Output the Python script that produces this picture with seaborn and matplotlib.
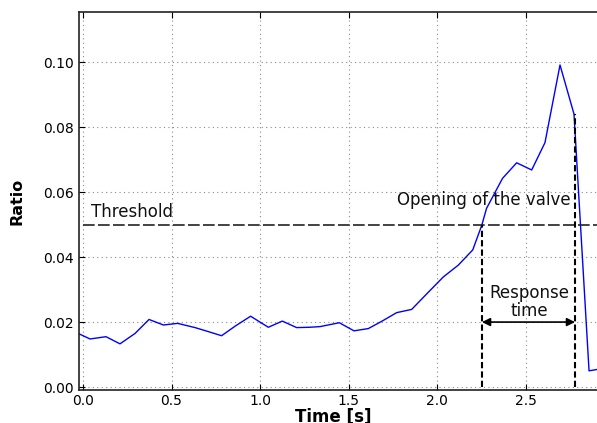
import matplotlib
matplotlib.use("Agg")
import matplotlib.pyplot as plt
import seaborn as sns
import pandas as pd

# Measured ratio over time
time_s = [-0.055, 0.040, 0.130, 0.209, 0.294, 0.373, 0.454, 0.535, 0.633, 0.700,
          0.783, 0.861, 0.947, 1.047, 1.126, 1.207, 1.280, 1.339, 1.448, 1.531,
          1.612, 1.690, 1.772, 1.857, 1.946, 2.036, 2.120, 2.202, 2.253, 2.280,
          2.370, 2.450, 2.535, 2.610, 2.695, 2.774, 2.859, 2.945]
ratio = [0.0172, 0.0148, 0.0155, 0.0133, 0.0165, 0.0208, 0.0191, 0.0196, 0.0183, 0.0172,
         0.0158, 0.0188, 0.0218, 0.0184, 0.0203, 0.0183, 0.0184, 0.0186, 0.0198, 0.0173,
         0.0180, 0.0203, 0.0229, 0.0239, 0.0289, 0.0339, 0.0375, 0.0422, 0.0498, 0.0550,
         0.0642, 0.0690, 0.0668, 0.0752, 0.0991, 0.0840, 0.0050, 0.0058]

threshold = 0.05
t_open = 2.254
t_peak = 2.78
ratio_peak = 0.084
arrow_y = 0.02

df = pd.DataFrame({"Time [s]": time_s, "Ratio": ratio})

sns.set_style("white")
plt.rcParams["font.family"] = ["DejaVu Sans"]

fig = plt.figure(figsize=(5.97, 4.23), dpi=100)
W, H = 597, 423
left_px, top_px, bottom_px = 79, 12, 390
xmin, xmax = -0.0226, 2.95
ymin, ymax = -0.0009, 0.1154
px_x = 177.0
ax_w_px = (xmax - xmin) * px_x
ax = fig.add_axes([left_px / W, (H - bottom_px) / H,
                   ax_w_px / W, (bottom_px - top_px) / H])

sns.lineplot(data=df, x="Time [s]", y="Ratio", ax=ax, color="#0000ff",
             linewidth=1.0, sort=False, estimator=None)

ax.set_xlim(xmin, xmax)
ax.set_ylim(ymin, ymax)
ax.set_xticks([0.0, 0.5, 1.0, 1.5, 2.0, 2.5])
ax.set_yticks([0.00, 0.02, 0.04, 0.06, 0.08, 0.10])
ax.xaxis.set_major_formatter(matplotlib.ticker.FormatStrFormatter("%.1f"))
ax.yaxis.set_major_formatter(matplotlib.ticker.FormatStrFormatter("%.2f"))
ax.tick_params(direction="in", length=4, width=0.8, labelsize=10, colors="black",
               top=True, right=True, bottom=True, left=True, pad=4)
ax.tick_params(axis="x", pad=3)
ax.grid(True, linestyle=(0, (1, 3)), color="#8a8a8a", linewidth=0.8)
for s in ax.spines.values():
    s.set_color("#222222")
    s.set_linewidth(1.2)

ax.set_xlabel("Time [s]", fontsize=12, fontweight="bold", color="black")
ax.xaxis.set_label_coords((333 - left_px) / ax_w_px, -0.046)
ax.set_ylabel("Ratio", fontsize=11.5, fontweight="bold", labelpad=13, color="black")

# Threshold and response-time markers
ax.plot([0.0, xmax], [threshold, threshold], color="#222222", linestyle=(0, (7, 2)),
        linewidth=1.2)
ax.plot([t_open, t_open], [0, threshold], color="black", linestyle=(0, (3, 1.5)),
        linewidth=1.5)
ax.plot([t_peak, t_peak], [0, ratio_peak], color="black", linestyle=(0, (3, 1.5)),
        linewidth=1.5)
ax.annotate("", xy=(t_open, arrow_y), xytext=(t_peak, arrow_y),
            arrowprops=dict(arrowstyle="<|-|>", color="black", lw=1.2,
                            shrinkA=0, shrinkB=0, mutation_scale=12))

ax.text(0.045, 0.0512, "Threshold", fontsize=12, ha="left", va="bottom", color="#111111")
ax.text(2.262, 0.0575, "Opening of the valve", fontsize=12, ha="center", va="center",
        color="#111111")
ax.text(2.52, 0.0262, "Response\ntime", fontsize=12, ha="center", va="center",
        color="#111111", linespacing=1.05)

fig.savefig("out.png", dpi=100)
